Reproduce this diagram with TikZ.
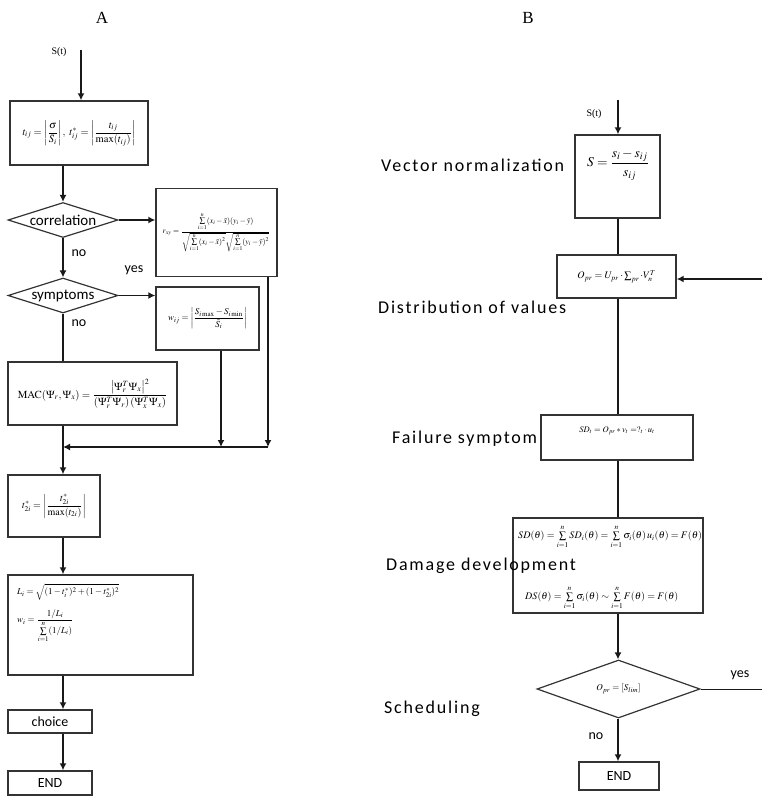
\documentclass[tikz,border=0pt]{standalone}
\usepackage{amsmath}
\usepackage{mathptmx}
\usepackage{fontspec}
\setmainfont{Liberation Serif}
\newfontfamily\lab[LetterSpace=10]{Carlito}
\newfontfamily\labn{Carlito}
\usetikzlibrary{shapes.geometric,arrows.meta}
\begin{document}
\begin{tikzpicture}[x=1pt,y=-1pt,
  box/.style={draw=black!80,line width=1.4pt,inner sep=2pt},
  dia/.style={draw=black!80,line width=1.2pt,diamond,inner sep=0pt,aspect=3},
  flow/.style={line width=1.8pt,draw=black!90},
  arr/.style={flow,-{Latex[length=7pt,width=7pt]}},
  lbl/.style={font=\lab\fontsize{18}{20}\selectfont,inner sep=0pt,anchor=west},
  sm/.style={font=\labn\fontsize{14}{16}\selectfont,inner sep=0pt}]
\useasboundingbox (0,0) rectangle (762,798);
% ---------- A ----------
\node[font=\fontsize{17}{19}\selectfont] (tA) at (102,18) {A};
\node[font=\fontsize{17}{19}\selectfont] (tB) at (528,18) {B};
\coordinate (a0) at (81,50);
\coordinate (ax) at (63,0);
\node[font=\fontsize{10}{12}\selectfont] (sA) at (59,52) {S(t)};
\node[box,minimum width=138,minimum height=64] (b1) at (79,133) {\fontsize{10.5}{12}\selectfont $t_{ij}=\left|\dfrac{\sigma}{\bar S_i}\right|,\ t_{ij}^{*}=\left|\dfrac{t_{ij}}{\max(t_{ij})}\right|$};
\node[dia,minimum width=110,minimum height=35] (d1) at (63,220) {\labn\fontsize{15}{17}\selectfont correlation};
\node[box,minimum width=121,minimum height=88] (b2) at (216.5,232.5) {\fontsize{7.8}{9}\selectfont $r_{xy}=\dfrac{\sum\limits_{i=1}^{n}(x_i-\bar x)(y_i-\bar y)}{\sqrt{\sum\limits_{i=1}^{n}(x_i-\bar x)^2}\sqrt{\sum\limits_{i=1}^{n}(y_i-\bar y)^2}}$};
\node[dia,minimum width=110,minimum height=35] (d2) at (63,295.5) {\labn\fontsize{15}{17}\selectfont symptoms};
\node[box,minimum width=103,minimum height=63] (b3) at (207.5,318.5) {\fontsize{9}{11}\selectfont $w_{ij}=\left|\dfrac{S_{i\max}-S_{i\min}}{\bar S_i}\right|$};
\node[box,minimum width=169,minimum height=63] (b4) at (92.5,393.5) {\fontsize{10.8}{12}\selectfont $\mathrm{MAC}(\Psi_r,\Psi_x)=\dfrac{\left|\Psi_r^{T}\Psi_x\right|^2}{\left(\Psi_r^{T}\Psi_r\right)\left(\Psi_x^{T}\Psi_x\right)}$};
\node[box,minimum width=92,minimum height=62] (b5) at (54,506) {\fontsize{10}{12}\selectfont $t_{2i}^{*}=\left|\dfrac{t_{2i}^{*}}{\max(t_{2i})}\right|$};
\node[box,minimum width=185,minimum height=100] (b6) at (100.5,625) {};
\node[anchor=west,inner sep=0pt,font=\fontsize{9}{11}\selectfont] (f61) at (17,592) {$L_i=\sqrt{(1-t_i^{*})^2+(1-t_{2i}^{*})^2}$};
\node[anchor=west,inner sep=0pt,font=\fontsize{9}{11}\selectfont] (f62) at (17,626) {$w_i=\dfrac{1/L_i}{\sum\limits_{i=1}^{n}(1/L_i)}$};
\node[box,minimum width=84,minimum height=23,font=\labn\fontsize{14}{16}\selectfont] (b7) at (50,721.5) {choice};
\node[box,minimum width=84,minimum height=24,font=\labn\fontsize{14}{16}\selectfont] (b8) at (50,783) {END};
\coordinate (m0) at (63,447);
\coordinate (m2) at (268,447);
\coordinate (m3) at (221,447);
\node[sm] (no1) at (79,253) {no};
\node[sm] (yes1) at (134,270) {yes};
\node[sm] (no2) at (79,323) {no};
\draw[arr] (a0) -- (b1.north -| a0);
\draw[arr] (b1.south -| ax) -- (d1.north);
\draw[arr] (d1.south) -- (d2.north);
\draw[arr] (d1.east) -- (b2.west |- d1.east);
\draw[arr] (d2.east) -- (b3.west |- d2.east);
\draw[flow] (d2.south) -- (b4.north -| ax);
\draw[arr] (b4.south -| ax) -- (b5.north -| ax);
\draw[arr] (b2.south -| m2) -- (m2);
\draw[arr] (b3.south -| m3) -- (m3);
\draw[arr] (m2) -- (m0);
\draw[arr] (b5.south -| ax) -- (b6.north -| ax);
\draw[arr] (b6.south -| ax) -- (b7.north -| ax);
\draw[arr] (b7.south -| ax) -- (b8.north -| ax);
% ---------- B ----------
\coordinate (c0) at (618,100);
\node[font=\fontsize{10}{12}\selectfont] (sB) at (594,114) {S(t)};
\node[box,minimum width=85,minimum height=83] (r1) at (617.5,176.5) {};
\node[inner sep=0pt,font=\fontsize{13.5}{16}\selectfont] (f1) at (618,165) {$S=\dfrac{s_i-s_{ij}}{s_{ij}}$};
\node[lbl] (l1) at (381,165) {Vector normalization};
\node[box,minimum width=119,minimum height=43] (r2) at (616.5,276.5) {\fontsize{10}{12}\selectfont $O_{pr}=U_{pr}\cdot\sum_{pr}\cdot V_{n}^{T}$};
\coordinate (c2) at (762,279);
\node[lbl] (l2) at (378,307) {Distribution of values};
\node[box,minimum width=152,minimum height=45] (r3) at (617,437.5) {};
\node[inner sep=0pt,font=\fontsize{8.5}{10}\selectfont] (f3) at (617,431) {$SD_t=O_{pr}*v_t=?_t\cdot u_t$};
\node[lbl] (l3) at (392,439) {Failure symptom};
\node[box,minimum width=190,minimum height=95] (r4) at (608,565.5) {};
\node[inner sep=0pt,font=\fontsize{10}{12}\selectfont,anchor=west] (f41) at (518,537) {$SD(\theta)=\sum\limits_{i=1}^{n}SD_i(\theta)=\sum\limits_{i=1}^{n}\sigma_i(\theta)\,u_i(\theta)=F(\theta)$};
\node[inner sep=0pt,font=\fontsize{10}{12}\selectfont,anchor=west] (f42) at (525,598) {$DS(\theta)=\sum\limits_{i=1}^{n}\sigma_i(\theta)\sim\sum\limits_{i=1}^{n}F(\theta)=F(\theta)$};
\node[lbl] (l4) at (386,566) {Damage development};
\node[dia,minimum width=163,minimum height=58] (r5) at (618.5,689) {\fontsize{9}{11}\selectfont $O_{pr}=[S_{lim}]$};
\node[lbl] (l5) at (384,709) {Scheduling};
\coordinate (c5) at (762,689);
\node[sm] (yes2) at (740,675) {yes};
\node[sm] (no3) at (596,736) {no};
\node[box,minimum width=80,minimum height=28,font=\labn\fontsize{14}{16}\selectfont] (r6) at (619,776) {END};
\draw[arr] (c0) -- (r1.north -| c0);
\draw[flow] (r1.south -| c0) -- (r2.north -| c0);
\draw[arr] (c2) -- (r2.east |- c2);
\draw[flow] (r2.south -| c0) -- (r3.north -| c0);
\draw[flow] (r3.south -| c0) -- (r4.north -| c0);
\draw[arr] (r4.south -| c0) -- (r5.north -| c0);
\draw[flow,line width=1pt] (r5.east) -- (c5);
\draw[arr] (r5.south -| c0) -- (r6.north -| c0);
\end{tikzpicture}
\end{document}
